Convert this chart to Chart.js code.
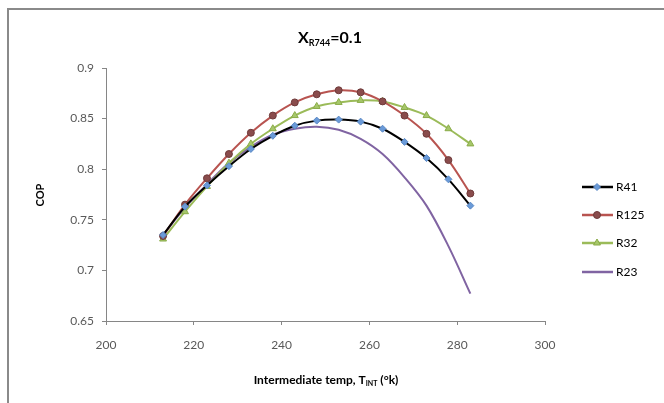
<!DOCTYPE html>
<html>
<head>
<meta charset="utf-8">
<script src="https://cdn.jsdelivr.net/npm/chart.js@4"></script>
<style>
  html, body { margin: 0; padding: 0; background: #fff; }
  #wrap { position: absolute; left: 0; top: 0; width: 664px; height: 403px; }
  #frame { position: absolute; left: 7px; top: 8px; width: 700px; height: 420px;
           border-top: 2px solid #8a8a8a; border-left: 2px solid #8a8a8a; }
</style>
</head>
<body>
<div id="wrap">
  <canvas id="chCop" width="664" height="403"></canvas>
  <div id="frame"></div>
</div>
<script>
// data
var temps = [213, 218, 223, 228, 233, 238, 243, 248, 253, 258, 263, 268, 273, 278, 283];
var r41  = [0.735, 0.763, 0.784, 0.803, 0.820, 0.833, 0.843, 0.848, 0.849, 0.847, 0.840, 0.827, 0.811, 0.790, 0.764];
var r125 = [0.734, 0.765, 0.791, 0.815, 0.836, 0.853, 0.866, 0.874, 0.878, 0.876, 0.867, 0.853, 0.835, 0.809, 0.776];
var r32  = [0.731, 0.758, 0.783, 0.806, 0.825, 0.840, 0.853, 0.862, 0.866, 0.868, 0.867, 0.861, 0.853, 0.840, 0.825];
var r23  = [0.735, 0.762, 0.785, 0.806, 0.822, 0.834, 0.840, 0.842, 0.839, 0.830, 0.815, 0.792, 0.764, 0.724, 0.677];
var names = ['R41', 'R125', 'R32', 'R23'];

var font = 'Lato, "Open Sans", sans-serif';

function pts(ys) {
  return temps.map(function (t, i) { return {x: t, y: ys[i]}; });
}

function series(label, ys, line, fill, border, style, radius) {
  return {
    label: label,
    data: pts(ys),
    borderColor: line,
    borderWidth: 2,
    pointStyle: style,
    pointRadius: radius,
    pointBackgroundColor: fill,
    pointBorderColor: border,
    pointBorderWidth: 1,
    tension: 0.35,
    fill: false
  };
}

var datasets = [
  series(names[0], r41, '#000000', '#6a9ad8', '#5a88c4', 'rectRot', 3.5),
  series(names[1], r125, '#b85450', '#8a4c4c', '#6e3a3a', 'circle', 3.5),
  series(names[2], r32, '#9bbb59', '#a6c76a', '#8aab48', 'triangle', 4),
  series(names[3], r23, '#8064a2', '#8064a2', '#8064a2', 'circle', 0)
];

// title, axis titles with subscripts and the legend
var decor = {
  id: 'decor',
  afterDraw: function (chart) {
    var c = chart.ctx;
    c.save();
    c.fillStyle = '#000';
    c.textBaseline = 'alphabetic';
    // title X_R744=0.1
    var big = 'bold 16px ' + font, sub = 'bold 9px ' + font;
    c.font = big; var w1 = c.measureText('X').width, w3 = c.measureText('=0.1').width;
    c.font = sub; var w2 = c.measureText('R744').width;
    var x0 = 330 - (w1 + w2 + w3) / 2, yb = 43;
    c.font = big; c.fillText('X', x0, yb);
    c.font = sub; c.fillText('R744', x0 + w1, yb + 3);
    c.font = big; c.fillText('=0.1', x0 + w1 + w2, yb);

    // x axis title
    var t1 = 'Intermediate temp, T', t2 = 'INT', t3 = ' (\u00b0k)';
    var f = 'bold 12px ' + font, fs = 'bold 7px ' + font;
    c.font = f; var a = c.measureText(t1).width, cc = c.measureText(t3).width;
    c.font = fs; var b = c.measureText(t2).width;
    var xs = 326 - (a + b + cc) / 2, yt = 384;
    c.font = f; c.fillText(t1, xs, yt);
    c.font = fs; c.fillText(t2, xs + a, yt + 2);
    c.font = f; c.fillText(t3, xs + a + b, yt);

    // y axis title
    c.save();
    c.translate(44, 195);
    c.rotate(-Math.PI / 2);
    c.textAlign = 'center';
    c.font = 'bold 11px ' + font;
    c.fillText('COP', 0, 0);
    c.restore();

    // legend
    var ly = [187, 215, 243, 272];
    chart.data.datasets.forEach(function (ds, i) {
      var y = ly[i];
      c.strokeStyle = ds.borderColor;
      c.lineWidth = 2.5;
      c.beginPath(); c.moveTo(582, y); c.lineTo(613, y); c.stroke();
      if (ds.pointRadius > 0) {
        c.fillStyle = ds.pointBackgroundColor;
        c.strokeStyle = ds.pointBorderColor;
        c.lineWidth = 1;
        Chart.helpers.drawPoint(c, {pointStyle: ds.pointStyle, radius: ds.pointRadius, rotation: 0, borderWidth: 1}, 597, y);
      }
      c.fillStyle = '#000';
      c.font = '12px ' + font;
      c.textBaseline = 'middle';
      c.textAlign = 'left';
      c.fillText(ds.label, 616, y);
    });
    c.restore();
  }
};

var ctx = document.getElementById('chCop');
new Chart(ctx, {
  type: 'line',
  data: {datasets: datasets},
  plugins: [decor],
  options: {
    responsive: false,
    animation: false,
    layout: {padding: {left: 0, top: 68, right: 119, bottom: 0}},
    plugins: {legend: {display: false}, title: {display: false}, tooltip: {enabled: false}},
    scales: {
      x: {
        type: 'linear', min: 200, max: 300,
        afterFit: function (s) { s.height = 82; },
        ticks: {stepSize: 20, color: '#595959', font: {family: font, size: 12}, padding: 13, maxRotation: 0},
        grid: {drawOnChartArea: false, color: '#868686', tickLength: 4},
        border: {color: '#868686', width: 1}
      },
      y: {
        min: 0.65, max: 0.9,
        afterFit: function (s) { s.width = 106; },
        ticks: {stepSize: 0.05, color: '#595959', font: {family: font, size: 12}, padding: 8,
                callback: function (v) { return Math.round(v * 100) / 100; }},
        grid: {drawOnChartArea: false, color: '#868686', tickLength: 4},
        border: {color: '#868686', width: 1}
      }
    }
  }
});
</script>
</body>
</html>
